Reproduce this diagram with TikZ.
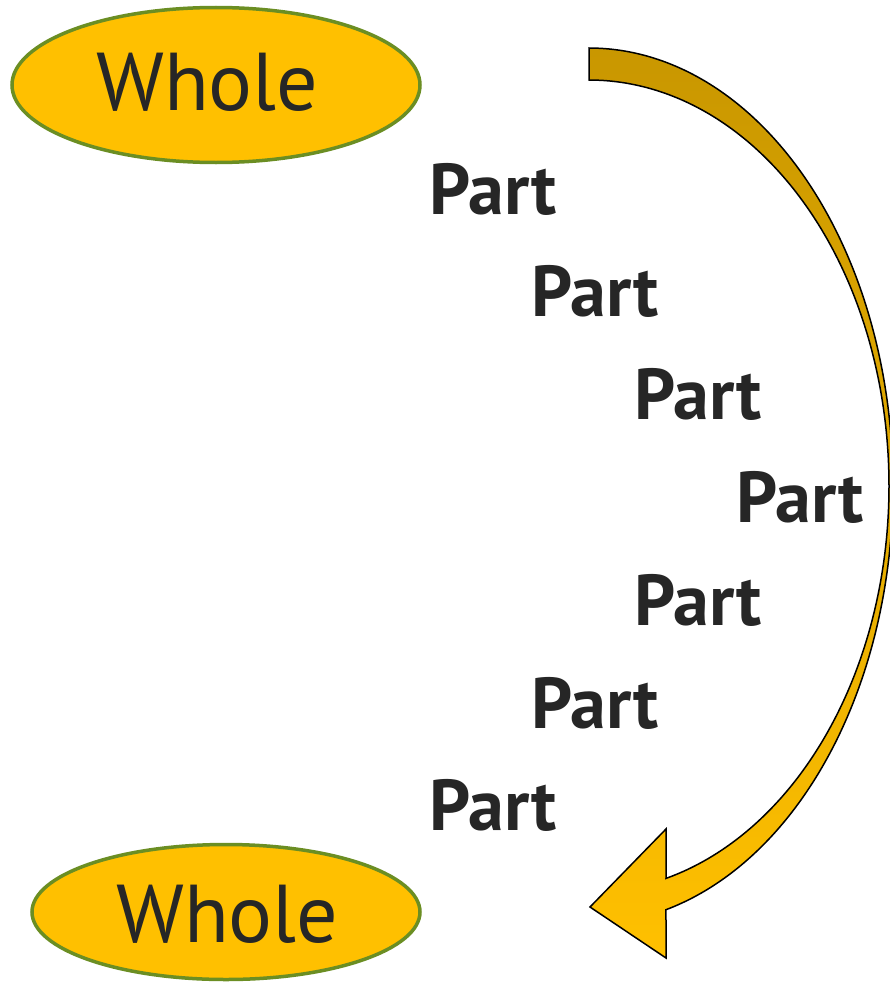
\documentclass[tikz,border=0pt]{standalone}
\usepackage{fontspec}
\setmainfont{PT Sans}
\definecolor{agold}{HTML}{C99700}
\definecolor{amid}{HTML}{E3AC00}
\definecolor{ayellow}{HTML}{FFC000}
\definecolor{wfill}{HTML}{FFC000}
\definecolor{wedge}{HTML}{6B8E23}
\definecolor{tgray}{HTML}{262626}
\tikzset{
  wholeshape/.style={draw=wedge, line width=3.5pt, fill=wfill, ellipse, inner sep=0pt},
  wholetext/.style={anchor=base west, inner sep=0pt, text=tgray, font=\fontsize{82}{90}\selectfont},
  parttext/.style={anchor=base west, inner sep=0pt, text=tgray, font=\fontsize{72}{80}\selectfont\bfseries},
}
\usetikzlibrary{shapes.geometric}
\begin{document}
\begin{tikzpicture}[x=1pt,y=-1pt]
\useasboundingbox (0,0) rectangle (890,982);
% ellipses
\node[wholeshape, minimum width=408pt, minimum height=155pt] (w1) at (216,85) {};
\node[wholetext] (w1t) at (96,110) {Whole};
\node[wholeshape, minimum width=388pt, minimum height=135pt] (w2) at (226,912) {};
\node[wholetext] (w2t) at (116,942) {Whole};
% parts
\node[parttext] (p1) at (429,214) {Part};
\node[parttext] (p2) at (531.5,316.8) {Part};
\node[parttext] (p3) at (634,419.6) {Part};
\node[parttext] (p4) at (736.5,522.4) {Part};
\node[parttext] (p5) at (634,625.2) {Part};
\node[parttext] (p6) at (531.5,728) {Part};
\node[parttext] (p7) at (429,830.8) {Part};
% curved arrow
\begin{scope}
\clip (0,0) rectangle (890,982);
\shade[top color=agold, middle color=amid, bottom color=ayellow, draw=black, line width=1.5pt, line join=miter]
  plot[domain=-90:75.33, samples=120, smooth] ({589+304*cos(\x)},{486+438*sin(\x)})
  -- (666,958) -- (590,907) -- (666,829) -- (666,878.2)
  -- plot[domain=75.13:-90, samples=120, smooth] ({589+300*cos(\x)},{486+406*sin(\x)})
  -- cycle;
\end{scope}
\end{tikzpicture}
\end{document}
